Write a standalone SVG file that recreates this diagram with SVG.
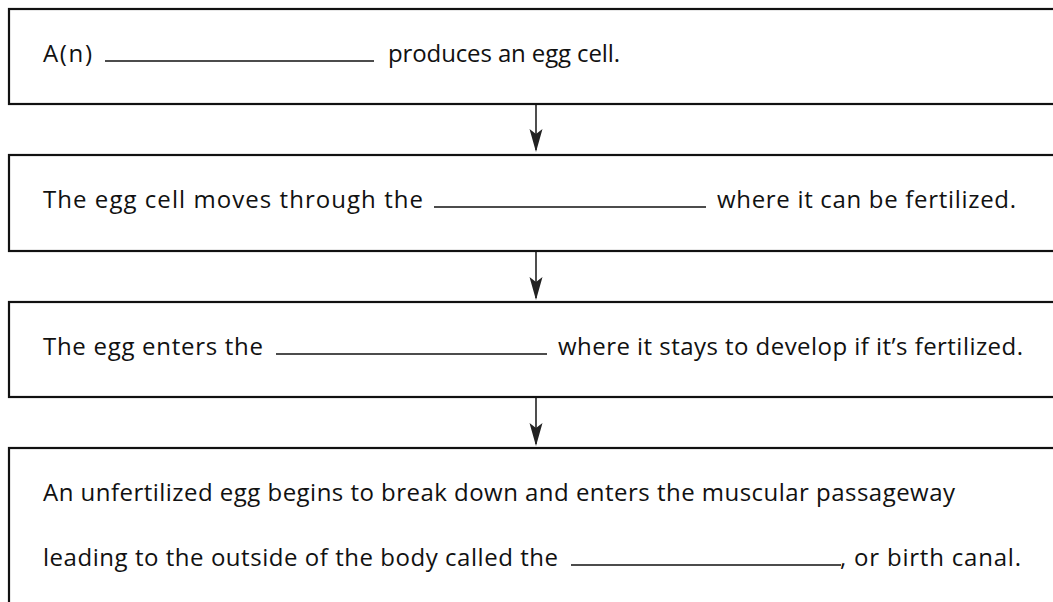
<svg xmlns="http://www.w3.org/2000/svg" width="1053" height="602" viewBox="0 0 1053 602">
<defs>
<style>
.box{fill:#fff;stroke:#111;stroke-width:2.2}
.t{font-family:"Open Sans","Liberation Sans",sans-serif;font-size:24px;fill:#111}
.blank{stroke:#111;stroke-width:1.6}
.conn{stroke:#222;stroke-width:1.6;fill:none}
.head{fill:#222}
</style>
</defs>
<rect width="1053" height="602" fill="#fff"/>
<g id="connectors">
<line class="conn" x1="536" y1="104" x2="536" y2="150"/>
<path class="head" d="M536,152 L529.5,129 L536,134 L542.5,129 Z"/>
<line class="conn" x1="536" y1="251" x2="536" y2="298"/>
<path class="head" d="M536,300 L529.5,277 L536,282 L542.5,277 Z"/>
<line class="conn" x1="536" y1="397" x2="536" y2="444"/>
<path class="head" d="M536,446 L529.5,423 L536,428 L542.5,423 Z"/>
</g>
<g id="node1">
<rect class="box" x="9" y="9" width="1060" height="95"/>
<text class="t" x="43" y="62" textLength="49" lengthAdjust="spacing">A(n)</text>
<line class="blank" x1="105" y1="61" x2="374" y2="61"/>
<text class="t" x="388" y="62" textLength="232" lengthAdjust="spacing">produces an egg cell.</text>
</g>
<g id="node2">
<rect class="box" x="9" y="155" width="1060" height="96"/>
<text class="t" x="43" y="208" textLength="380" lengthAdjust="spacing">The egg cell moves through the</text>
<line class="blank" x1="434" y1="207" x2="706" y2="207"/>
<text class="t" x="717" y="208" textLength="299" lengthAdjust="spacing">where it can be fertilized.</text>
</g>
<g id="node3">
<rect class="box" x="9" y="302" width="1060" height="95"/>
<text class="t" x="43" y="355" textLength="220" lengthAdjust="spacing">The egg enters the</text>
<line class="blank" x1="276" y1="354" x2="547" y2="354"/>
<text class="t" x="558" y="355" textLength="465" lengthAdjust="spacing">where it stays to develop if it’s fertilized.</text>
</g>
<g id="node4">
<rect class="box" x="9" y="448" width="1060" height="200"/>
<text class="t" x="43" y="501" textLength="912" lengthAdjust="spacing">An unfertilized egg begins to break down and enters the muscular passageway</text>
<text class="t" x="43" y="566" textLength="515" lengthAdjust="spacing">leading to the outside of the body called the</text>
<line class="blank" x1="571" y1="565" x2="841" y2="565"/>
<text class="t" x="840" y="566" textLength="181" lengthAdjust="spacing">, or birth canal.</text>
</g>
</svg>
